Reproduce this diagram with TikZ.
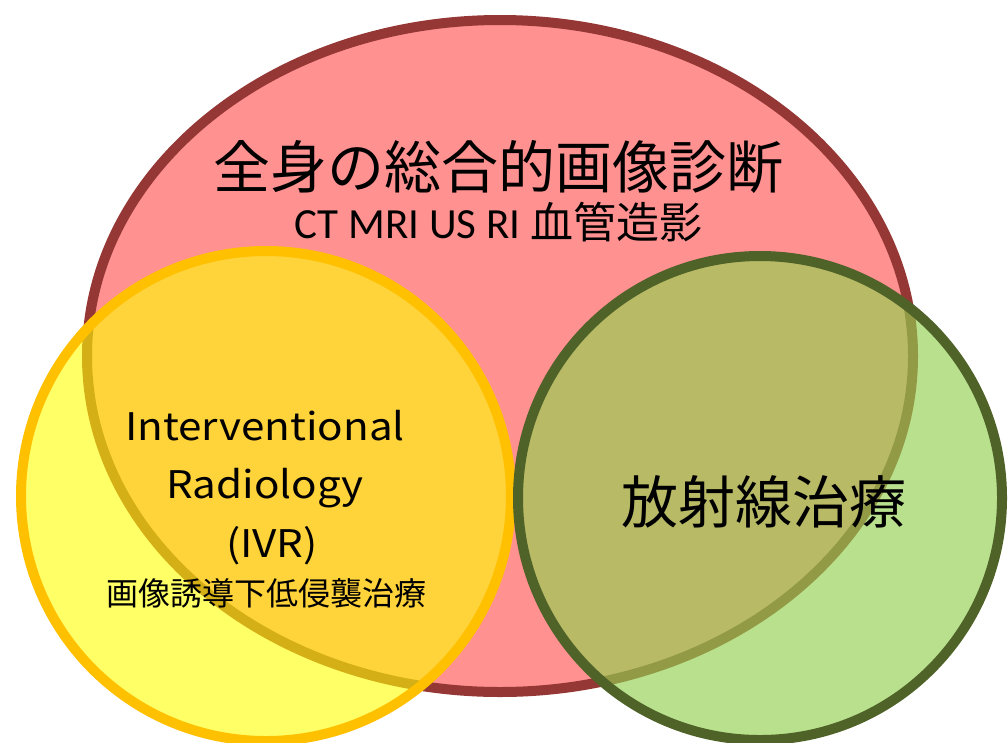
\documentclass[tikz,border=0pt]{standalone}
\usepackage{fontspec}
\newfontfamily\jp{Noto Sans CJK JP}
\newfontfamily\jpw[FakeStretch=1.11]{Noto Sans CJK JP}
\newfontfamily\lat{Carlito}
\definecolor{redfill}{RGB}{255,145,145}
\definecolor{redline}{RGB}{149,55,53}
\definecolor{yelfill}{RGB}{255,255,0}
\definecolor{yelline}{RGB}{255,192,0}
\definecolor{grnfill}{RGB}{146,208,80}
\definecolor{grnline}{RGB}{79,98,40}
\begin{document}
\begin{tikzpicture}[x=1pt,y=-1pt,
  blob/.style={line width=10pt},
  txt/.style={inner sep=0pt, anchor=base, text=black},
  ivrtxt/.style={txt, font=\jpw\fontsize{38}{46}\selectfont}]
\useasboundingbox (0,0) rectangle (1008,742);
\clip (0,0) rectangle (1008,742);
% big red ellipse
\draw[blob, draw=redline, fill=redfill] (500,356) ellipse [x radius=413, y radius=336];
% yellow circle
\draw[blob, draw=yelline, fill=yelfill, fill opacity=0.6] (266,496) ellipse [x radius=245, y radius=245];
% green circle
\draw[blob, draw=grnline, fill=grnfill, fill opacity=0.65] (760,498) ellipse [x radius=242, y radius=242];
% texts
\node[txt, font=\jp\fontsize{57}{68}\selectfont] (title) at (498.5,188) {全身の総合的画像診断};
\node[txt, font=\lat\fontsize{43}{50}\selectfont] (sub) at (498.5,238) {CT MRI US RI {\jp 血管造影}};
\node[ivrtxt] (ivra) at (265,440) {Interventional};
\node[ivrtxt] (ivrb) at (265,498) {Radiology};
\node[ivrtxt] (ivrc) at (272,557) {(IVR)};
\node[txt, font=\jp\fontsize{32}{38}\selectfont] (ivrd) at (266,605) {画像誘導下低侵襲治療};
\node[txt, font=\jp\fontsize{57}{68}\selectfont] (rad) at (763.5,523) {放射線治療};
\end{tikzpicture}
\end{document}
